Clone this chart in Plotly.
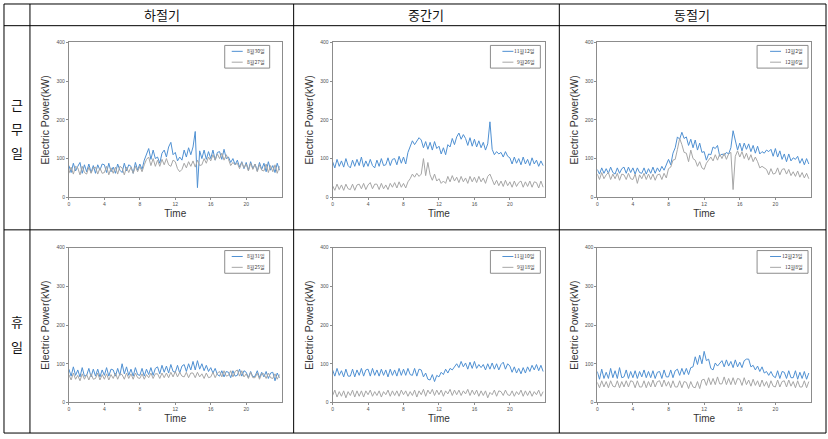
import plotly.graph_objects as go

# ---------------- data (15-min samples, kW) ----------------
time_h = [i * 0.25 for i in range(96)]

season_labels = ["하절기", "중간기", "동절기"]
row_labels = [["근", "무", "일"], ["휴", "일"]]
x_ticks = [0, 4, 8, 12, 16, 20]
y_ticks = [0, 100, 200, 300, 400]

names_blue = ["8월30일", "11월12일", "12월2일", "8월31일", "11월10일", "12월23일"]
names_gray = ["8월27일", "9월26일", "12월6일", "8월25일", "9월18일", "12월8일"]

s1_blue = [82,64,88,68, 80,90,62,84, 66,86,64,82, 62,84,70,86, 84,64,88,66, 78,62,86,70,
           64,88,68,84, 80,62,90,70, 86,72,96,112, 126,98,122,100, 104,88,114,122, 104,130,142,110,
           116,94,104,96, 122,104,128,110, 130,170,25,120, 100,122,98,118, 100,122,96,116, 118,98,124,100,
           104,90,100,84, 96,78,92,74, 90,70,92,74, 86,68,90,72, 88,66,92,70, 82,64,88,70]
s1_gray = [62,78,60,80, 76,58,80,64, 60,78,62,76, 78,60,76,62, 64,80,58,76, 62,78,60,80,
           76,58,78,64, 78,62,80,66, 80,66,84,98, 104,82,100,80, 96,80,98,84, 100,84,80,96,
           92,74,66,72, 88,76,92,80, 94,78,96,82, 84,100,88,104, 94,110,96,112, 100,114,96,110,
           98,82,90,84, 88,74,90,76, 86,68,88,72, 86,66,84,70, 68,86,64,82, 66,84,62,80]

s2_blue = [92,76,98,80, 94,78,100,82, 76,96,80,98, 82,104,78,94, 80,98,82,76, 96,80,100,82,
           84,102,82,98, 100,84,106,88, 104,86,116,134, 146,136,144,154, 148,128,144,124, 142,122,144,126,
           132,112,128,110, 136,130,152,136, 156,166,150,162, 152,134,154,132, 150,130,146,128, 142,122,138,195,
           124,110,118,112, 116,104,118,106, 102,86,104,88, 100,84,104,86, 98,82,102,86, 96,80,94,82]
s2_gray = [30,18,34,20, 32,18,34,22, 20,34,18,32, 34,22,36,20, 32,38,22,34, 34,20,36,22,
           32,20,36,26, 38,24,40,26, 36,24,40,48, 60,52,62,54, 60,100,56,90, 58,44,60,42,
           48,36,42,36, 54,40,56,42, 52,38,54,40, 50,36,54,40, 52,38,54,40, 50,36,54,60,
           46,32,44,30, 42,28,44,30, 40,26,42,28, 38,42,26,40, 28,42,26,40, 38,24,42,26]

s3_blue = [72,60,76,62, 74,62,78,64, 60,76,62,74, 78,62,78,64, 76,60,76,64, 62,76,60,74,
           62,78,62,76, 66,80,70,86, 98,84,114,128, 156,150,168,152, 156,134,150,128, 148,122,140,116,
           118,96,112,110, 130,126,134,106, 112,108,116,112, 128,172,146,122, 140,120,140,124, 138,118,134,114,
           132,112,118,114, 122,118,124,106, 126,104,120,98, 112,92,112,94, 102,98,106,88, 100,84,100,86]
s3_gray = [60,46,64,48, 58,64,46,60, 48,62,44,60, 58,46,62,48, 46,60,36,58, 48,62,46,60,
           46,60,44,58, 60,46,62,50, 74,78,96,98, 124,152,136,116, 114,92,122,100, 96,80,92,76,
           72,88,96,104, 94,110,96,112, 100,114,98,112, 116,20,106,120, 104,118,100,114, 96,110,92,104,
           92,76,80,76, 72,58,74,60, 62,76,58,72, 74,60,72,56, 66,54,68,52, 64,50,62,48]

s4_blue = [86,68,92,70, 84,66,90,68, 70,88,66,86, 68,86,66,84, 70,90,68,86, 84,68,88,70,
           100,74,92,70, 86,68,90,72, 70,88,68,86, 72,90,70,88, 92,74,96,78, 94,76,98,80,
           78,96,76,94, 98,80,100,84, 106,84,108,86, 100,82,96,80, 90,76,88,72, 68,82,66,80,
           78,64,82,68, 70,86,68,82, 78,64,80,66, 68,82,64,78, 66,80,62,76, 78,56,76,64]
s4_gray = [72,58,76,60, 70,56,74,60, 72,58,74,60, 62,76,58,72, 60,74,58,72, 62,76,60,74,
           72,60,76,62, 74,60,76,64, 62,74,60,72, 64,76,62,74, 74,62,76,64, 76,64,78,66,
           80,66,78,68, 66,78,64,76, 76,64,78,66, 74,62,76,64, 66,78,64,76, 80,66,82,68,
           70,82,66,80, 84,68,82,66, 74,62,78,64, 64,76,60,74, 74,62,76,64, 62,74,60,72]

s5_blue = [84,68,88,70, 82,66,86,68, 68,86,66,84, 70,88,68,84, 86,68,88,70, 84,68,86,70,
           84,66,86,70, 84,68,88,70, 86,70,88,72, 70,88,68,86, 84,66,76,60, 58,72,54,70,
           66,78,72,86, 76,88,84,92, 100,90,106,92, 102,86,104,88, 106,88,98,90, 98,84,100,86,
           102,86,100,84, 98,104,86,100, 94,78,92,76, 88,74,90,76, 92,80,96,84, 98,82,96,80]
s5_gray = [18,32,14,28, 16,30,12,28, 18,32,14,30, 16,30,14,30, 20,32,16,28, 18,30,14,28,
           20,32,16,30, 18,30,16,32, 20,30,16,28, 18,32,14,30, 20,34,16,32, 22,34,18,32,
           20,32,16,30, 22,34,18,32, 20,32,18,30, 22,34,18,32, 20,32,16,30, 18,30,12,26,
           20,32,16,30, 28,18,32,20, 18,30,16,28, 20,32,16,30, 18,30,16,28, 20,32,16,28]

s6_blue = [80,60,86,62, 78,62,88,64, 82,62,90,64, 66,84,62,80, 64,82,62,80, 66,84,64,80,
           64,82,62,78, 80,62,84,66, 66,84,64,82, 86,70,88,72, 88,72,90,92, 118,98,122,100,
           132,108,112,88, 84,102,94,100, 108,92,110,94, 106,90,110,92, 104,90,108,112, 112,92,96,84,
           94,80,92,76, 80,70,80,68, 64,82,62,80, 78,62,82,64, 64,82,60,78, 62,80,60,76]
s6_gray = [52,38,56,40, 54,38,56,42, 40,56,38,54, 40,56,40,56, 54,38,56,40, 40,56,38,54,
           40,58,40,54, 56,40,58,42, 54,38,56,40, 40,56,38,54, 52,36,54,40, 38,54,36,58,
           60,44,64,46, 62,46,66,48, 48,66,46,62, 46,64,46,62, 60,44,64,46, 58,42,60,44,
           56,40,58,42, 54,38,56,42, 40,58,40,54, 56,40,58,42, 54,38,56,40, 40,56,38,54]

blues = [s1_blue, s2_blue, s3_blue, s4_blue, s5_blue, s6_blue]
grays = [s1_gray, s2_gray, s3_gray, s4_gray, s5_gray, s6_gray]

# ---------------- layout geometry (pixels) ----------------
W, H = 828, 439
BLUE = "#4f90d2"
GRAY = "#a6a6a6"
col_px = [(68, 281), (332, 545), (597, 811)]
row_px = [(40, 197), (248, 405)]
legend_box_x = [(224, 269), (490, 540), (757, 808)]
legend_box_dy = [3, 3]

def px_x(p):
    return p / W

def px_y(p):
    return 1 - p / H

fig = go.Figure()
layout = {}
shapes = []
annotations = []
for k in range(6):
    r, c = divmod(k, 3)
    idx = k + 1
    xa = "x" if idx == 1 else f"x{idx}"
    ya = "y" if idx == 1 else f"y{idx}"
    fig.add_trace(go.Scatter(x=time_h, y=blues[k], mode="lines", name=names_blue[k],
                             line=dict(color=BLUE, width=1), xaxis=xa, yaxis=ya, showlegend=False))
    fig.add_trace(go.Scatter(x=time_h, y=grays[k], mode="lines", name=names_gray[k],
                             line=dict(color=GRAY, width=1), xaxis=xa, yaxis=ya, showlegend=False))
    x0, x1 = col_px[c]
    y0, y1 = row_px[r]
    axcommon = dict(showline=True, linecolor="#8c8c8c", linewidth=1, mirror=True,
                    showgrid=False, zeroline=False, ticks="outside", ticklen=2,
                    tickcolor="#8c8c8c", tickfont=dict(size=5, color="#505050", family="Liberation Sans"))
    layout["xaxis" if idx == 1 else f"xaxis{idx}"] = dict(
        domain=[px_x(x0), px_x(x1)], anchor=ya, range=[0, 24], tickvals=x_ticks,
        title=dict(text="Time", font=dict(size=10, color="#333333", family="Liberation Sans"), standoff=3),
        **axcommon)
    layout["yaxis" if idx == 1 else f"yaxis{idx}"] = dict(
        domain=[px_y(y1), px_y(y0)], anchor=xa, range=[0, 400], tickvals=y_ticks,
        title=dict(text="Electric Power(kW)", font=dict(size=10.5, color="#333333", family="Liberation Sans"), standoff=4),
        **axcommon)

    # small framed legend, as in the original
    bx0, bx1 = legend_box_x[c]
    by0 = y0 + legend_box_dy[r]
    by1 = by0 + 23
    shapes.append(dict(type="rect", xref="paper", yref="paper",
                       x0=px_x(bx0), x1=px_x(bx1), y0=px_y(by1), y1=px_y(by0),
                       line=dict(color="#8c8c8c", width=1), fillcolor="white", layer="above"))
    for j, (nm, col) in enumerate([(names_blue[k], BLUE), (names_gray[k], GRAY)]):
        ly = by0 + 6 + j * 11
        shapes.append(dict(type="line", xref="paper", yref="paper",
                           x0=px_x(bx1 - 38), x1=px_x(bx1 - 27), y0=px_y(ly), y1=px_y(ly),
                           line=dict(color=col, width=1), layer="above"))
        annotations.append(dict(text=nm, x=px_x(bx1 - 3), y=px_y(ly), xref="paper", yref="paper",
                                showarrow=False, xanchor="right", yanchor="middle",
                                font=dict(size=5, color="#404040", family="Noto Sans CJK KR")))

# ---------------- table lines ----------------
line_style = dict(color="black", width=1)
for xv in [3, 29, 293, 559, 826]:
    shapes.append(dict(type="line", xref="paper", yref="paper", x0=px_x(xv), x1=px_x(xv),
                       y0=px_y(1), y1=px_y(436), line=line_style))
for yv in [1, 23, 230, 436]:
    shapes.append(dict(type="line", xref="paper", yref="paper", x0=px_x(3), x1=px_x(826),
                       y0=px_y(yv), y1=px_y(yv), line=line_style))

col_centers = [161, 426, 692]
for i, s in enumerate(season_labels):
    annotations.append(dict(text=s, x=px_x(col_centers[i]), y=px_y(12), xref="paper", yref="paper",
                            showarrow=False, xanchor="center", yanchor="middle",
                            font=dict(size=13, color="#111111", family="Noto Sans CJK KR")))
row_char_y = [[103, 127, 152], [323, 348]]
for r in range(2):
    for ch, yv in zip(row_labels[r], row_char_y[r]):
        annotations.append(dict(text=ch, x=px_x(16), y=px_y(yv), xref="paper", yref="paper",
                                showarrow=False, xanchor="center", yanchor="middle",
                                font=dict(size=13, color="#111111", family="Noto Sans CJK KR")))

fig.update_layout(width=W, height=H, margin=dict(l=0, r=0, t=0, b=0),
                  paper_bgcolor="white", plot_bgcolor="white", showlegend=False,
                  shapes=shapes, annotations=annotations, **layout)

fig.write_html("out.html", config={"displayModeBar": False},
               post_script="document.body.style.margin='0';")
